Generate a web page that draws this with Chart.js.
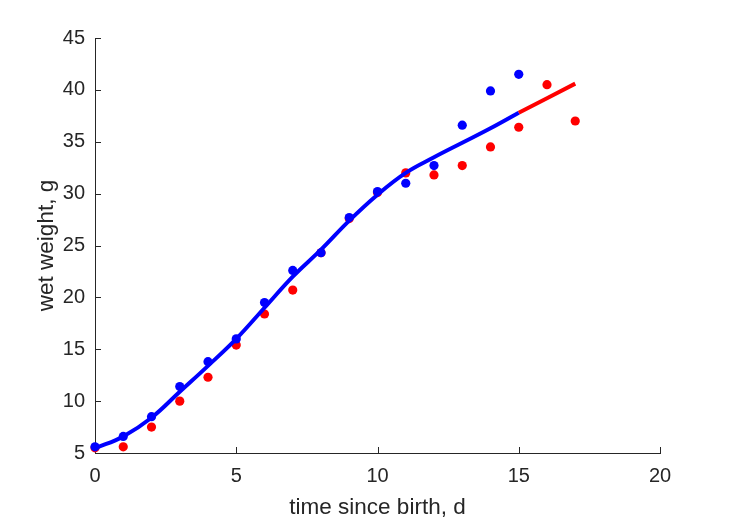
<!DOCTYPE html>
<html>
<head>
<meta charset="utf-8">
<script src="https://cdn.jsdelivr.net/npm/chart.js@4/dist/chart.umd.min.js"></script>
<style>
  html, body { margin: 0; padding: 0; background: #ffffff; }
  #c { display: block; }
</style>
</head>
<body>
<canvas id="c" width="729" height="521"></canvas>
<script>
// ---- data ----
const blueDaysX = [0, 1, 2, 3, 4, 5, 6, 7, 8, 9, 10, 11, 12, 13, 14, 15];
const blueWeight = [5.6, 6.6, 8.5, 11.4, 13.8, 16.0, 19.5, 22.6, 24.3, 27.7, 30.2, 31.0, 32.7, 36.6, 39.9, 41.5];

const redDaysX = [0, 1, 2, 3, 4, 5, 6, 7, 8, 9, 10, 11, 12, 13, 14, 15, 16, 17];
const redWeight = [5.5, 5.6, 7.5, 10.0, 12.3, 15.4, 18.4, 20.7, 24.3, 27.6, 30.1, 32.0, 31.8, 32.7, 34.5, 36.4, 40.5, 37.0];

const fitBlueX = [0, 1, 2, 3, 4, 5, 6, 7, 8, 9, 10, 11, 12, 13, 14, 15];
const fitBlueY = [5.45, 6.6, 8.4, 10.9, 13.4, 16.0, 19.0, 22.0, 24.6, 27.4, 29.9, 32.0, 33.5, 34.9, 36.3, 37.8];

const fitRedX = [15, 16, 17];
const fitRedY = [37.8, 39.2, 40.6];

const xTicks = [0, 5, 10, 15, 20];
const yTicks = [5, 10, 15, 20, 25, 30, 35, 40, 45];

const xTitle = 'time since birth, d';
const yTitle = 'wet weight, g';

// ---- build ----
const pts = (xs, ys) => xs.map((x, i) => ({ x: x, y: ys[i] }));
const BLUE = 'rgb(0,0,255)';
const RED = 'rgb(255,0,0)';
const TXT = '#262626';
const FONT = '"Liberation Sans", Arial, Helvetica, sans-serif';

const inwardTicks = {
  id: 'inwardTicks',
  beforeDatasetsDraw(chart) {
    const ctx = chart.ctx;
    const xs = chart.scales.x, ys = chart.scales.y;
    const len = 6;
    ctx.save();
    ctx.strokeStyle = TXT;
    ctx.lineWidth = 1;
    ctx.beginPath();
    xTicks.forEach(v => {
      const px = Math.round(xs.getPixelForValue(v)) + 0.5;
      ctx.moveTo(px, ys.bottom);
      ctx.lineTo(px, ys.bottom - len);
    });
    yTicks.forEach(v => {
      const py = Math.round(ys.getPixelForValue(v)) + 0.5;
      ctx.moveTo(xs.left, py);
      ctx.lineTo(xs.left + len, py);
    });
    ctx.stroke();
    ctx.restore();
  }
};

new Chart(document.getElementById('c'), {
  type: 'scatter',
  data: {
    datasets: [
      { label: 'blue data', data: pts(blueDaysX, blueWeight), showLine: false, clip: false,
        pointRadius: 4.6, pointHoverRadius: 4.6, pointBackgroundColor: BLUE, pointBorderWidth: 0,
        borderColor: BLUE, backgroundColor: BLUE, order: 0 },
      { label: 'blue fit', data: pts(fitBlueX, fitBlueY), showLine: true, pointRadius: 0, clip: false,
        borderColor: BLUE, borderWidth: 4, tension: 0.4, order: 1 },
      { label: 'red fit', data: pts(fitRedX, fitRedY), showLine: true, pointRadius: 0, clip: false,
        borderColor: RED, borderWidth: 4, order: 1 },
      { label: 'red data', data: pts(redDaysX, redWeight), showLine: false, clip: false,
        pointRadius: 4.6, pointHoverRadius: 4.6, pointBackgroundColor: RED, pointBorderWidth: 0,
        borderColor: RED, backgroundColor: RED, order: 2 }
    ]
  },
  options: {
    responsive: false,
    animation: false,
    events: [],
    layout: { padding: { top: 38, right: 69, left: 0, bottom: 0 } },
    plugins: { legend: { display: false }, tooltip: { enabled: false } },
    scales: {
      x: {
        type: 'linear', min: 0, max: 20,
        afterFit: s => { s.height = 68; },
        afterBuildTicks: s => { s.ticks = xTicks.map(v => ({ value: v })); },
        grid: { display: false, drawTicks: false },
        border: { display: true, color: TXT, width: 1 },
        ticks: { color: TXT, font: { family: FONT, size: 20 }, padding: 11, maxRotation: 0 },
        title: { display: true, text: xTitle, color: TXT, font: { family: FONT, size: 22.5 },
                 padding: { top: 0, bottom: 0 } }
      },
      y: {
        type: 'linear', min: 5, max: 45,
        afterFit: s => { s.width = 95; },
        afterBuildTicks: s => { s.ticks = yTicks.map(v => ({ value: v })); },
        grid: { display: false, drawTicks: false },
        border: { display: true, color: TXT, width: 1 },
        ticks: { color: TXT, font: { family: FONT, size: 20 }, padding: 10 },
        title: { display: true, text: yTitle, color: TXT, font: { family: FONT, size: 22.5 },
                 padding: { top: 33, bottom: 0 } }
      }
    }
  },
  plugins: [inwardTicks]
});
</script>
</body>
</html>
